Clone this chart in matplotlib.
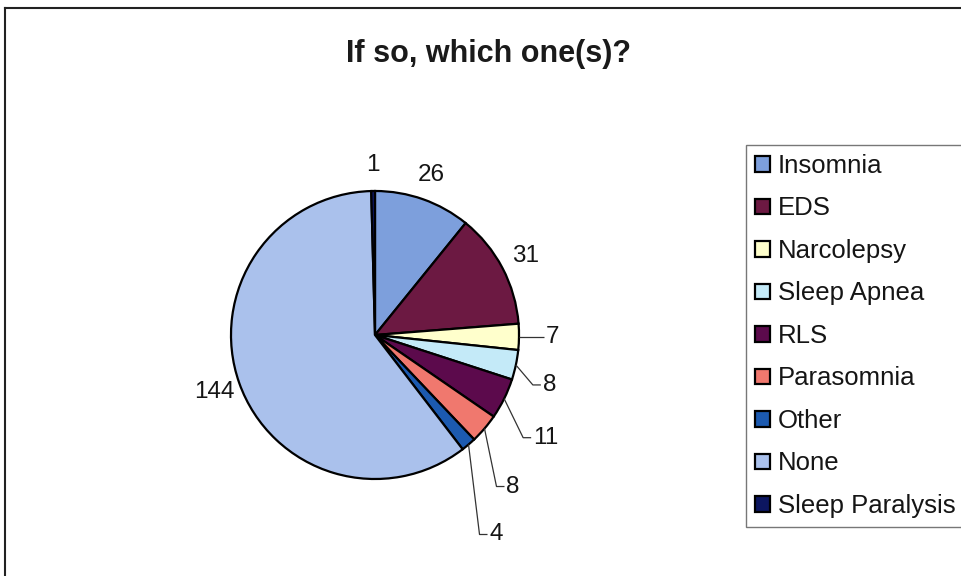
import matplotlib
matplotlib.use("Agg")
import matplotlib.pyplot as plt
import numpy as np

plt.rcParams['font.family'] = ['Liberation Sans', 'DejaVu Sans']

# Survey answers: which sleep disorder(s)
categories = ["Insomnia", "EDS", "Narcolepsy", "Sleep Apnea", "RLS",
              "Parasomnia", "Other", "None", "Sleep Paralysis"]
counts = [26, 31, 7, 8, 11, 8, 4, 144, 1]
colors = ["#7d9fdc", "#6c1942", "#ffffcc", "#c4eaf8", "#5c0a4c",
          "#f0786e", "#1c5ab0", "#aac1ec", "#0c1660"]

# Value labels: placed radially, or pulled out with a leader line
# (offset in pixels from the wedge rim, None = plain radial label)
leader_offsets = [None, None, (27, 0), (27, -20), (29, -39),
                  (22, -58), (21, -90), None, None]

W, H = 962, 576
fig = plt.figure(figsize=(W / 100, H / 100), dpi=100)
ax = fig.add_axes([0, 0, 1, 1])

cx, cy, R = 375, H - 335, 144
wedges, _ = ax.pie(counts, colors=colors, startangle=90, counterclock=False,
                   center=(cx, cy), radius=R,
                   wedgeprops=dict(edgecolor="black", linewidth=1.6))
ax.set_xlim(0, W)
ax.set_ylim(0, H)
ax.set_aspect("equal")
ax.axis("off")

for w, val, off in zip(wedges, counts, leader_offsets):
    mid = np.deg2rad((w.theta1 + w.theta2) / 2)
    ux, uy = np.cos(mid), np.sin(mid)
    if off is None:
        ax.text(cx + 1.18 * R * ux, cy + 1.18 * R * uy, str(val),
                ha="center", va="center", fontsize=17.5, color="#151515")
    else:
        ex, ey = cx + R * ux, cy + R * uy
        tx, ty = ex + off[0], ey + off[1]
        ax.plot([ex, tx - 10, tx - 2], [ey, ty, ty],
                color="#333333", lw=0.9, solid_capstyle="butt")
        ax.text(tx, ty, str(val), ha="left", va="center",
                fontsize=17.5, color="#151515")

ax.text(489, H - 54, "If so, which one(s)?", ha="center", va="center",
        fontsize=22, fontweight="bold", color="#1a1a1a")

# Outer chart border (top and left edges)
ax.plot([5, W], [H - 8, H - 8], color="#222222", lw=1.5)
ax.plot([5, 5], [H - 8, 0], color="#222222", lw=1.5)

leg = fig.legend(wedges, categories, loc="upper left",
                 bbox_to_anchor=(746 / W, 1 - 145 / H),
                 prop={"size": 18.5}, frameon=True, fancybox=False,
                 edgecolor="#555555", borderpad=0.35, labelspacing=0.72,
                 handlelength=0.6, handleheight=0.55, handletextpad=0.3,
                 borderaxespad=0)
leg.get_frame().set_linewidth(1.0)
for t in leg.get_texts():
    t.set_color("#151515")

fig.savefig("out.png", dpi=100, facecolor="white")
